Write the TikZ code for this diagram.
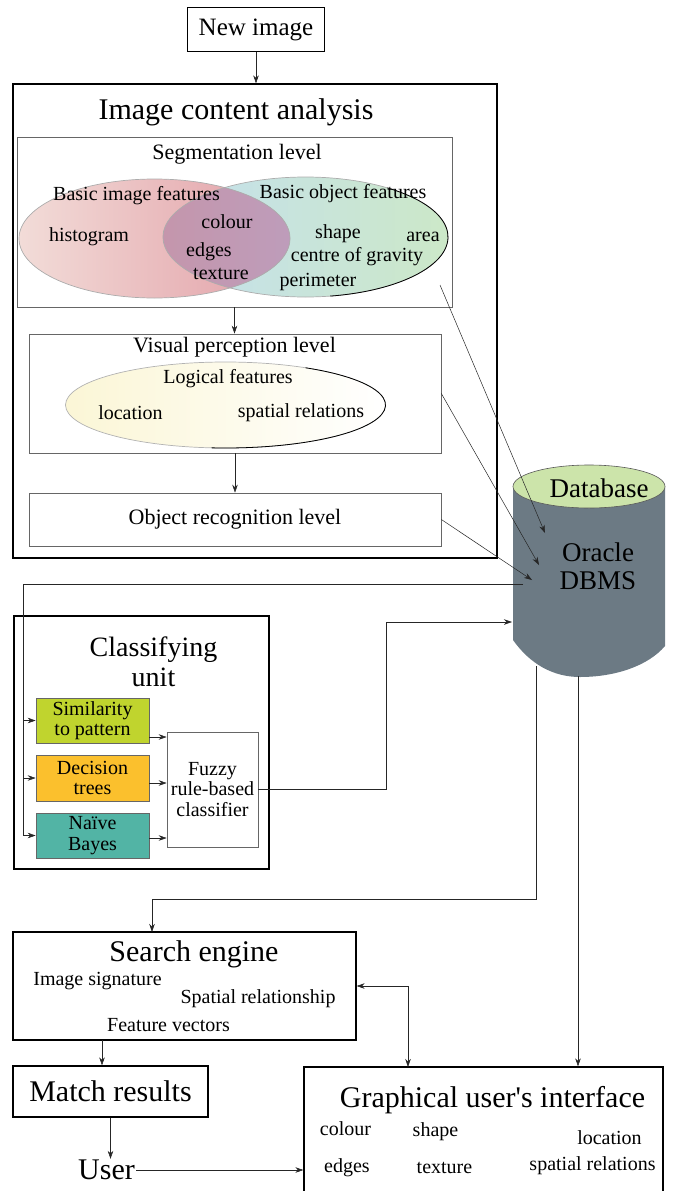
\documentclass[tikz,border=0pt]{standalone}
\usepackage{fontspec}
\setmainfont{Liberation Serif}
\newfontfamily\plainquote{Liberation Serif}
\usepackage{tikz}
\usetikzlibrary{arrows.meta,positioning,calc}

\definecolor{imgpink}{RGB}{242,220,216}
\definecolor{imgred}{RGB}{226,158,166}
\definecolor{objblue}{RGB}{196,224,238}
\definecolor{objteal}{RGB}{170,210,220}
\definecolor{objgreen}{RGB}{204,232,200}
\definecolor{ovlpink}{RGB}{196,150,172}
\definecolor{ovlpurple}{RGB}{182,164,204}
\definecolor{lfcream}{RGB}{251,246,214}
\definecolor{lfyellow}{RGB}{248,238,168}
\definecolor{dbgray}{RGB}{108,122,132}
\definecolor{dbtop}{RGB}{204,228,170}
\definecolor{simfill}{RGB}{192,212,46}
\definecolor{decfill}{RGB}{251,192,45}
\definecolor{nbfill}{RGB}{82,180,165}

\begin{document}
\begin{tikzpicture}[x=1pt,y=-1pt,
  >={Stealth[length=8pt,width=5.5pt]},
  framebox/.style={draw=black,line width=1.3pt,inner sep=0pt},
  levelbox/.style={draw=gray!80!black,line width=0.7pt,inner sep=0pt},
  conn/.style={->,draw=black!85,line width=0.5pt},
  t30/.style={font=\fontsize{30}{32}\selectfont},
  t27/.style={font=\fontsize{27}{28}\selectfont},
  t22/.style={font=\fontsize{22}{24}\selectfont},
  t20/.style={font=\fontsize{20}{20.5}\selectfont,inner sep=1pt}]

\clip (0,0) rectangle (676,1191);

%% Input and analysis frame
\node[framebox,minimum width=137,minimum height=44,font=\fontsize{25}{27}\selectfont] (newimg) at (256,29.5) {New image};
\node[framebox,minimum width=484,minimum height=474] (ica) at (255,321) {};
\node[t30] (icatitle) at (236,112) {Image content analysis};
\draw[conn] (newimg.south) -- (newimg.south |- ica.north);

%% Segmentation level
\node[levelbox,minimum width=435,minimum height=170] (seg) at (234.5,222) {};
\node[t22] (segtitle) at (237,154) {Segmentation level};

% right ellipse, left ellipse, then their overlap
\shade[left color=objblue,middle color=objteal,right color=objgreen] (305.5,237) ellipse[x radius=142.5,y radius=60];
\shade[left color=imgpink,right color=imgred] (154.5,238.5) ellipse[x radius=135.5,y radius=59.5];
\begin{scope}
  \clip (154.5,238.5) ellipse[x radius=135.5,y radius=59.5];
  \shade[left color=ovlpink,right color=ovlpurple] (305.5,237) ellipse[x radius=142.5,y radius=60];
\end{scope}
\draw[gray!65,line width=0.7pt] (154.5,238.5) ellipse[x radius=135.5,y radius=59.5];
\draw[gray!65,line width=0.7pt] (305.5,237) ellipse[x radius=142.5,y radius=60];
\draw[black,line width=0.8pt] (305.5,237) ++(-55:142.5 and 60) arc[start angle=-55,end angle=80,x radius=142.5,y radius=60];

\node[t20] (imgfeat) at (136.5,196) {Basic image features};
\node[t20] (objfeat) at (343,194) {Basic object features};
\node[t20] (histo) at (89,237) {histogram};
\node[t20] (colour) at (227,222) {colour};
\node[t20] (edges) at (209,252) {edges};
\node[t20] (texture) at (221,274) {texture};
\node[t20] (shape) at (338,234) {shape};
\node[t20] (area) at (423,237) {area};
\node[t20] (gravity) at (357,257) {centre of gravity};
\node[t20] (perim) at (318,282) {perimeter};

%% Visual perception level
\node[levelbox,minimum width=412,minimum height=119] (vp) at (235,393.5) {};
\node[t22] (vptitle) at (234.5,347) {Visual perception level};
\shade[left color=lfcream,middle color=lfyellow,right color=white] (225.5,405) ellipse[x radius=160,y radius=43];
\draw[gray!60,line width=0.7pt] (225.5,405) ellipse[x radius=160,y radius=43];
\draw[black,line width=0.8pt] (225.5,405) ++(-60:160 and 43) arc[start angle=-60,end angle=95,x radius=160,y radius=43];
\node[t20] (logic) at (228,379) {Logical features};
\node[t20] (locat) at (130.5,413) {location};
\node[t20] (spatrel) at (301,413) {spatial relations};

%% Object recognition level
\node[levelbox,minimum width=412,minimum height=53,t22] (objrec) at (235,519.5) {Object recognition level};
\draw[conn] (seg.south) -- (seg.south |- vp.north);
\draw[conn] (vp.south) -- (objrec.north);

%% Database cylinder
\fill[dbgray] (513,486.5) -- (513,640) .. controls (530,664) and (553,677) .. (580,677)
  .. controls (615,677) and (648,666) .. (665,646) -- (665,486.5) -- cycle;
\draw[fill=dbtop,draw=gray!70!black,line width=0.6pt] (589,486.5) ellipse[x radius=76,y radius=21.5];
\node[t27] (dbtitle) at (599,488) {Database};
\node[t27,align=center] (dbms) at (598,566) {Oracle\\DBMS};

\coordinate (segout) at (440,285);
\coordinate (dbseg) at (545,533);
\coordinate (dbvp) at (539,565);
\coordinate (dbor) at (532,580);
\draw[conn] (segout) -- (dbseg);
\draw[conn] (vp.east) -- (dbvp);
\draw[conn] (objrec.east) -- (dbor);

%% Classifying unit
\node[framebox,minimum width=255,minimum height=253] (cls) at (141.5,742.5) {};
\node[font=\fontsize{28}{30}\selectfont,align=center] (clstitle) at (153.5,662) {Classifying\\unit};
\node[levelbox,fill=simfill,minimum width=113,minimum height=45,t20,align=center] (simil) at (92.5,720.5) {Similarity\\to pattern};
\node[levelbox,fill=decfill,minimum width=113,minimum height=46,t20,align=center] (dectree) at (92.5,778) {Decision\\trees};
\node[levelbox,fill=nbfill,minimum width=113,minimum height=45,t20,align=center] (naive) at (92.5,835.5) {Naïve\\Bayes};
\node[levelbox,fill=white,minimum width=91,minimum height=115,t20,align=center] (fuzzy) at (212.5,789.5) {Fuzzy\\rule-based\\classifier};

\coordinate (dbout) at (523,584);
\coordinate (trunk) at (23.5,584);
\draw[draw=black!85,line width=0.5pt] (dbout) -- (trunk) -- (trunk |- naive.west);
\foreach \cl in {simil,dectree,naive}
  \draw[conn] (trunk |- \cl.west) -- (\cl.west);

\coordinate (simout) at (149,737);
\coordinate (decout) at (149,783);
\coordinate (nbout) at (149,838);
\foreach \p in {simout,decout,nbout}
  \draw[conn] (\p) -- (\p -| fuzzy.west);

\coordinate (dbfuzzy) at (512,622);
\draw[conn] (fuzzy.east) -- ++(128,0) |- (dbfuzzy);

%% Search engine and interface
\node[framebox,minimum width=343,minimum height=108] (search) at (184.5,986) {};
\node[t30] (setitle) at (194,954) {Search engine};
\node[t20] (imgsig) at (97.5,981) {Image signature};
\node[t20] (spatrelship) at (258,999) {Spatial relationship};
\node[t20] (featvec) at (168.5,1025) {Feature vectors};

\node[framebox,minimum width=195,minimum height=51,t30] (match) at (110.5,1091.5) {Match results};
\node[t30,inner sep=1pt] (user) at (106.5,1170) {User};

\node[framebox,minimum width=359,minimum height=140] (gui) at (483.5,1137) {};
\node[t30] (guititle) at (492.5,1100) {Graphical user{\plainquote '}s interface};
\node[t20] (gcolour) at (345.5,1129) {colour};
\node[t20] (gshape) at (435.5,1132) {shape};
\node[t20] (glocat) at (609.5,1138) {location};
\node[t20] (gedges) at (347,1168) {edges};
\node[t20] (gtexture) at (444.5,1168) {texture};
\node[t20] (gspatrel) at (592.5,1166) {spatial relations};

\coordinate (dbsearch) at (536,666);
\coordinate (seturn) at (536,899);
\coordinate (sein) at (152,932);
\draw[conn] (dbsearch) -- (seturn) -| (sein);

\coordinate (dbgui) at (578,676);
\draw[conn] (dbgui) -- (dbgui |- gui.north);

\coordinate (guiin) at (408,1067);
\draw[conn,<->] (search.east) -| (guiin);

\coordinate (sematch) at (102,1040);
\draw[conn] (sematch) -- (sematch |- match.north);
\draw[conn] (match.south) -- (match.south |- user.north);
\draw[conn] (user.east) -- (user.east -| gui.west);

\end{tikzpicture}
\end{document}
